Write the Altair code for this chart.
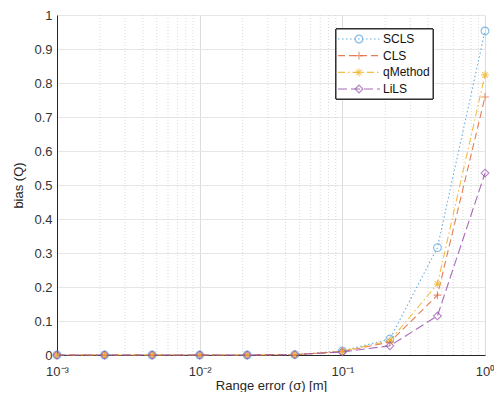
import altair as alt
import pandas as pd

x_vals = [0.001, 0.002154, 0.004642, 0.01, 0.02154, 0.04642, 0.1, 0.2154, 0.4642, 1.0]
methods = ["SCLS", "CLS", "qMethod", "LiLS"]
scls = [0.0, 0.0, 0.0, 0.0, 0.0, 0.001, 0.012, 0.047, 0.316, 0.953]
cls_ = [0.0, 0.0, 0.0, 0.0, 0.0, 0.001, 0.010, 0.038, 0.176, 0.759]
qmethod = [0.0, 0.0, 0.0, 0.0, 0.0, 0.001, 0.011, 0.042, 0.209, 0.824]
lils = [0.0, 0.0, 0.0, 0.0, 0.0, 0.001, 0.009, 0.027, 0.115, 0.535]
colors = ["#4fa0dc", "#e2673a", "#f0b325", "#9650ad"]
x_ticks = [0.001, 0.01, 0.1, 1.0]
minor_ticks = [m * 10.0 ** k for k in (-3, -2, -1) for m in range(2, 10)]
y_ticks = [round(i * 0.1, 1) for i in range(11)]

rows = []
for name, ys in zip(methods, [scls, cls_, qmethod, lils]):
    for xv, yv in zip(x_vals, ys):
        rows.append({"x": xv, "y": yv, "method": name})
df = pd.DataFrame(rows)
leg_df = pd.DataFrame({"method": methods, "row": list(range(len(methods)))})

plus = "M-1,0L1,0M0,-1L0,1"
star = "M-1,0L1,0M0,-1L0,1M-0.7,-0.7L0.7,0.7M-0.7,0.7L0.7,-0.7"
shapes = ["circle", plus, star, "diamond"]
dashes = [[1.5, 2.5], [7, 4], [7, 3, 1.5, 3], [9, 4]]

xscale = alt.Scale(type="log", domain=[0.001, 1.0])
yscale = alt.Scale(domain=[0, 1], nice=False)
color_scale = alt.Scale(domain=methods, range=colors)
shape_scale = alt.Scale(domain=methods, range=shapes)
dash_scale = alt.Scale(domain=methods, range=dashes)

common_axis = dict(grid=True, ticks=False, labelFontSize=13, titleFontSize=13,
                   titleFontWeight="normal", domainColor="#262626",
                   labelColor="#333333", titleColor="#262626")
x_enc = alt.X("x:Q", scale=xscale, title="Range error (σ) [m]",
              axis=alt.Axis(values=x_ticks,
                            labelExpr="'10' + (datum.value == 1 ? '⁰' : datum.value == 0.1 ? '⁻¹' : datum.value == 0.01 ? '⁻²' : '⁻³')",
                            gridColor="#dcdcdc", labelPadding=10, titlePadding=1,
                            labelFlush=False, **common_axis))
y_enc = alt.Y("y:Q", scale=yscale, title="bias (Q)",
              axis=alt.Axis(values=y_ticks, format="~g", gridColor="#e6e6e6",
                            labelPadding=5, titlePadding=8, **common_axis))

minor = alt.Chart(pd.DataFrame({"x": minor_ticks})).mark_rule(
    color="#d0d0d0", strokeDash=[1, 2], strokeWidth=0.8).encode(x=x_enc)

lines = alt.Chart(df).mark_line(strokeWidth=1.1, opacity=0.85).encode(
    x=x_enc, y=y_enc,
    color=alt.Color("method:N", scale=color_scale, legend=None),
    strokeDash=alt.StrokeDash("method:N", scale=dash_scale, legend=None),
    detail="method:N")

points = alt.Chart(df).mark_point(filled=False, size=60, strokeWidth=1.1).encode(
    x=x_enc, y=y_enc,
    color=alt.Color("method:N", scale=color_scale, legend=None),
    shape=alt.Shape("method:N", scale=shape_scale, legend=None))

main = alt.layer(minor, lines, points)

# legend box drawn inside the plot
row_scale = alt.Scale(domain=[0, 3], range=[24, 74])
row_y = alt.Y("row:Q", scale=row_scale, axis=None)
leg_box = alt.Chart(leg_df).mark_rect(fill="white", stroke="#262626", strokeWidth=1).encode(
    x=alt.value(279), x2=alt.value(376), y=alt.value(14), y2=alt.value(84))
leg_lines = alt.Chart(leg_df).mark_rule(strokeWidth=1.1, opacity=0.85).encode(
    x=alt.value(281), x2=alt.value(323), y=row_y,
    color=alt.Color("method:N", scale=color_scale, legend=None),
    strokeDash=alt.StrokeDash("method:N", scale=dash_scale, legend=None))
leg_pts = alt.Chart(leg_df).mark_point(filled=False, size=60, strokeWidth=1.1).encode(
    x=alt.value(302), y=row_y,
    color=alt.Color("method:N", scale=color_scale, legend=None),
    shape=alt.Shape("method:N", scale=shape_scale, legend=None))
leg_txt = alt.Chart(leg_df).mark_text(align="left", baseline="middle", fontSize=12,
                                      color="#111111").encode(
    x=alt.value(326), y=row_y, text="method:N")
legend = alt.layer(leg_box, leg_lines, leg_pts, leg_txt)

chart = alt.layer(main, legend).resolve_scale(y="independent").properties(
    width=428, height=340,
    autosize=alt.AutoSizeParams(type="none"),
    padding={"left": 49, "top": 7, "right": 9, "bottom": 37},
).configure_view(stroke="#262626", strokeWidth=1).configure(font="Liberation Sans")

chart.save("out.html", embed_options={"renderer": "svg", "actions": False})
